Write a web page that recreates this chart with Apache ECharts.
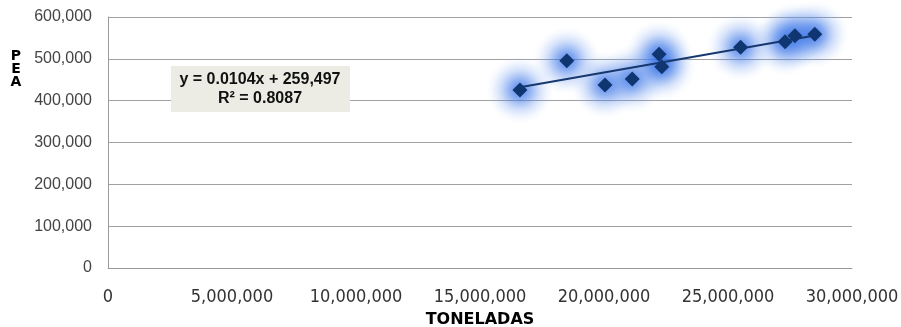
<!DOCTYPE html>
<html>
<head>
<meta charset="utf-8">
<script src="https://cdn.jsdelivr.net/npm/echarts@6/dist/echarts.min.js"></script>
<style>
  html, body { margin: 0; padding: 0; background: #fff; }
  #chart { width: 901px; height: 327px; }
</style>
</head>
<body>
<div id="chart"></div>
<script>
// toneladas (x) vs PEA (y)
const toneladas = [16610000, 18500000, 20040000, 21140000, 22220000, 22330000, 25510000, 27300000, 27700000, 28500000]
const pea = [425500, 495600, 437500, 451800, 510800, 481300, 527600, 541000, 555000, 558600]
// trend line from the reference: y = 0.0104x + 259,497
const trendSlope = 0.0104
const trendIntercept = 259497
const trendLabel = 'y = 0.0104x + 259,497\nR² = 0.8087'

const points = toneladas.map((x, i) => [x, pea[i]])
const xMin = Math.min(...toneladas)
const xMax = Math.max(...toneladas)
const trend = [
  [xMin, trendSlope * xMin + trendIntercept],
  [xMax, trendSlope * xMax + trendIntercept]
]

const fmt = v => v.toLocaleString('en-US')

// soft glow fill used behind the markers (one gradient per point)
const makeGlow = () => new echarts.graphic.RadialGradient(0.5, 0.5, 0.5, [
  { offset: 0, color: 'rgba(40, 100, 228, 0.8)' },
  { offset: 0.3, color: 'rgba(55, 115, 232, 0.55)' },
  { offset: 0.6, color: 'rgba(90, 140, 236, 0.25)' },
  { offset: 0.85, color: 'rgba(130, 170, 242, 0.07)' },
  { offset: 1, color: 'rgba(160, 190, 245, 0)' }
])

const chart = echarts.init(document.getElementById('chart'))
chart.setOption({
  animation: false,
  grid: { left: 108, right: 49, top: 17, bottom: 59, outerBoundsMode: 'none' },
  xAxis: {
    type: 'value',
    min: 0,
    max: 30000000,
    interval: 5000000,
    axisLine: { show: true, lineStyle: { color: '#9a9a9a' } },
    axisTick: { show: false },
    splitLine: { show: false },
    axisLabel: {
      margin: 20,
      color: '#333',
      fontSize: 18,
      fontFamily: 'DejaVu Sans Condensed, Liberation Sans Narrow, sans-serif',
      formatter: fmt
    },
    name: 'TONELADAS',
    nameLocation: 'middle',
    nameGap: 44,
    nameTextStyle: { fontWeight: 'bold', fontSize: 16, color: '#000', fontFamily: 'DejaVu Sans, sans-serif' }
  },
  yAxis: {
    type: 'value',
    min: 0,
    max: 600000,
    interval: 100000,
    axisLine: { show: true, lineStyle: { color: '#9a9a9a' } },
    axisTick: { show: false },
    splitLine: { show: true, lineStyle: { color: '#a0a0a0' } },
    axisLabel: {
      margin: 16,
      color: '#444',
      fontSize: 16,
      fontFamily: 'Liberation Sans, Arial, sans-serif',
      formatter: fmt
    }
  },
  graphic: [
    {
      type: 'text',
      x: 16,
      y: 50,
      style: {
        text: 'P\nE\nA',
        font: 'bold 14px DejaVu Sans, sans-serif',
        fill: '#000',
        lineHeight: 13,
        align: 'center'
      }
    },
    {
      type: 'rect',
      shape: { x: 171, y: 66, width: 179, height: 46 },
      style: { fill: '#ecece4' },
      z: 10
    },
    {
      type: 'text',
      x: 260,
      y: 70,
      z: 11,
      style: {
        text: trendLabel,
        font: 'bold 16px Liberation Sans, Arial, sans-serif',
        fill: '#111',
        lineHeight: 19,
        align: 'center'
      }
    }
  ],
  series: [
    {
      // soft blue glow behind each marker
      type: 'scatter',
      data: points,
      symbol: 'circle',
      symbolSize: 68,
      silent: true,
      itemStyle: { color: () => makeGlow(), opacity: 1 },
      z: 2
    },
    {
      type: 'line',
      data: trend,
      symbol: 'none',
      lineStyle: { color: '#17386e', width: 2 },
      z: 3
    },
    {
      type: 'scatter',
      data: points,
      symbol: 'diamond',
      symbolSize: 15,
      itemStyle: { color: '#0f3670', opacity: 1 },
      z: 4
    }
  ]
})
</script>
</body>
</html>
